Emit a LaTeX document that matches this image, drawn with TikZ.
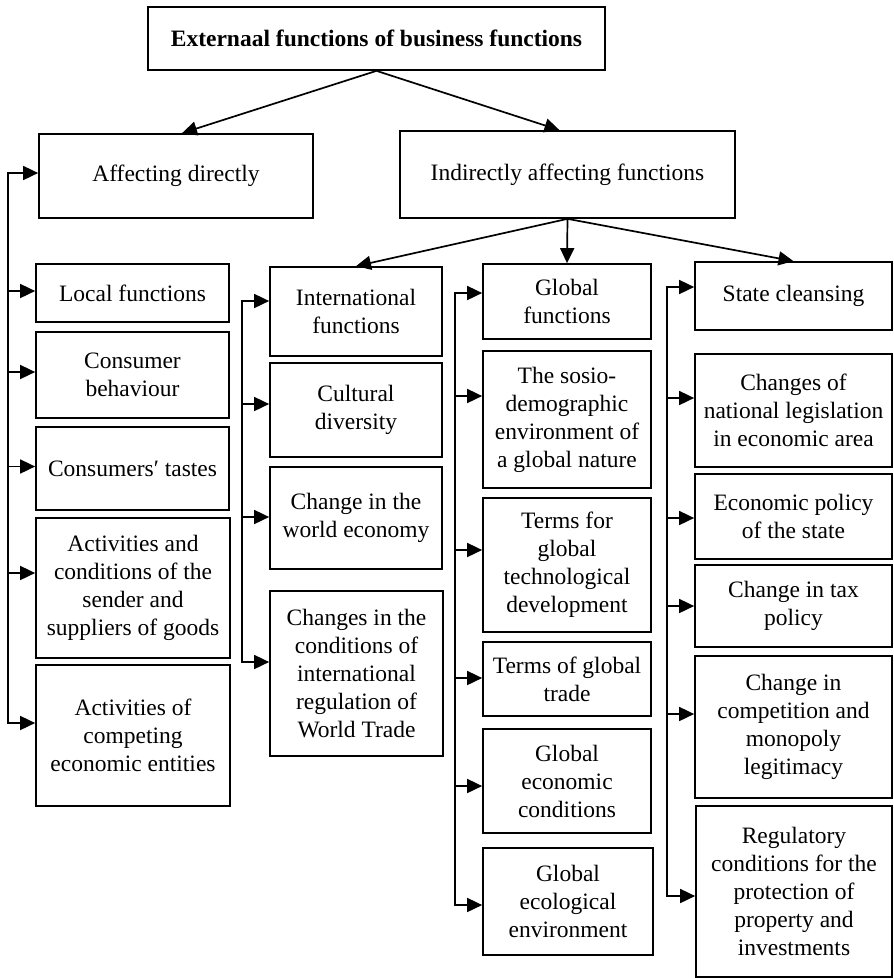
\documentclass[tikz,border=0pt]{standalone}
\usepackage{fontspec}
\setmainfont{Liberation Serif}
\usetikzlibrary{arrows.meta}

\begin{document}
\begin{tikzpicture}[x=1pt, y=-1pt,
        box/.style={draw, line width=1.7pt, align=center, inner sep=0pt,
            font=\fontsize{23.5}{28}\selectfont},
        arr/.style={line width=1.7pt, -{Triangle[length=15pt, width=14pt]}},
        bus/.style={line width=1.7pt, line cap=rect}]
    \useasboundingbox (0,0) rectangle (894,978);

        \node[box, font=\fontsize{23.5}{28}\selectfont\bfseries,
            minimum width=457pt, minimum height=63pt] (top) at (376.5,38.5)
            {Externaal functions of business functions};
        \node[box, minimum width=274pt, minimum height=84pt] (affd) at (176,176)
            {Affecting directly};
        \node[box, minimum width=335pt, minimum height=87pt] (indir) at (567.5,174.5)
            {Indirectly affecting functions};

        \node[box, minimum width=193pt, minimum height=58pt] (loc) at (132.5,293)
            {Local functions};
        \node[box, minimum width=193pt, minimum height=86pt] (beh) at (132.5,375)
            {Consumer\\behaviour};
        \node[box, minimum width=193pt, minimum height=83pt] (taste) at (132.5,468.5)
            {Consumers′ tastes};
        \node[box, minimum width=194pt, minimum height=140pt] (actcond) at (133,588)
            {Activities and\\conditions of the\\sender and\\suppliers of goods};
        \node[box, minimum width=194pt, minimum height=141pt] (compet) at (133,735.5)
            {Activities of\\competing\\economic entities};

        \node[box, minimum width=172pt, minimum height=89pt] (intl) at (356,311.5)
            {International\\functions};
        \node[box, minimum width=172pt, minimum height=94pt] (cult) at (356,410)
            {Cultural\\diversity};
        \node[box, minimum width=172pt, minimum height=102pt] (wecon) at (356,518)
            {Change in the\\world economy};
        \node[box, minimum width=173pt, minimum height=165pt] (regul) at (356.5,673.5)
            {Changes in the\\conditions of\\international\\regulation of\\World Trade};

        \node[box, minimum width=168pt, minimum height=75pt] (glob) at (567,301.5)
            {Global\\functions};
        \node[box, minimum width=168pt, minimum height=137pt] (sosio) at (567,419.5)
            {The sosio-\\demographic\\environment of\\a global nature};
        \node[box, minimum width=168pt, minimum height=134pt] (tech) at (567,565)
            {Terms for\\global\\technological\\development};
        \node[box, minimum width=168pt, minimum height=74pt] (trade) at (567,679)
            {Terms of global\\trade};
        \node[box, minimum width=168pt, minimum height=104pt] (gecon) at (567,781)
            {Global\\economic\\conditions};
        \node[box, minimum width=170pt, minimum height=107pt] (geco) at (568,901.5)
            {Global\\ecological\\environment};

        \node[box, minimum width=197pt, minimum height=68pt] (state) at (793.5,296)
            {State cleansing};
        \node[box, minimum width=197pt, minimum height=113pt] (legis) at (793.5,410.5)
            {Changes of\\national legislation\\in economic area};
        \node[box, minimum width=197pt, minimum height=85pt] (epol) at (793.5,516.5)
            {Economic policy\\of the state};
        \node[box, minimum width=197pt, minimum height=82pt] (tax) at (793.5,606)
            {Change in tax\\policy};
        \node[box, minimum width=197pt, minimum height=142pt] (compt) at (793.5,727)
            {Change in\\competition and\\monopoly\\legitimacy};
        \node[box, minimum width=196pt, minimum height=171pt] (prop) at (794,891.5)
            {Regulatory\\conditions for the\\protection of\\property and\\investments};

        \draw[arr] (top.south) -- ([xshift=6pt]affd.north);
        \draw[arr] (top.south) -- ([xshift=-8pt]indir.north);
        \foreach \n in {intl, glob, state}
            \draw[arr] (indir.south) -- (\n.north);

        \coordinate (busL) at (8,0);
        \coordinate (busI) at (242,0);
        \coordinate (busG) at (455,0);
        \coordinate (busS) at (667,0);

        \foreach \b/\n/\s in {busL/affd/3, busL/loc/2, busL/beh/3, busL/taste/2,
                busL/actcond/15, busL/compet/12.5,
                busI/intl/10.5, busI/cult/6, busI/wecon/1, busI/regul/11.5,
                busG/glob/8.5, busG/sosio/23.5, busG/tech/15, busG/trade/1,
                busG/gecon/-5, busG/geco/-3.5,
                busS/state/9, busS/legis/12.5, busS/epol/-1.5, busS/tax/0,
                busS/compt/13, busS/prop/-4.5} {
            \coordinate (\n-a) at ([yshift=\s pt]\n.west);
            \coordinate (\n-b) at (\b |- \n-a);
            \draw[arr] (\n-b) -- (\n-a);
        }
        \draw[bus] (affd-b) -- (compet-b);
        \draw[bus] (intl-b) -- (regul-b);
        \draw[bus] (glob-b) -- (geco-b);
        \draw[bus] (state-b) -- (prop-b);
    \end{tikzpicture}
\end{document}
